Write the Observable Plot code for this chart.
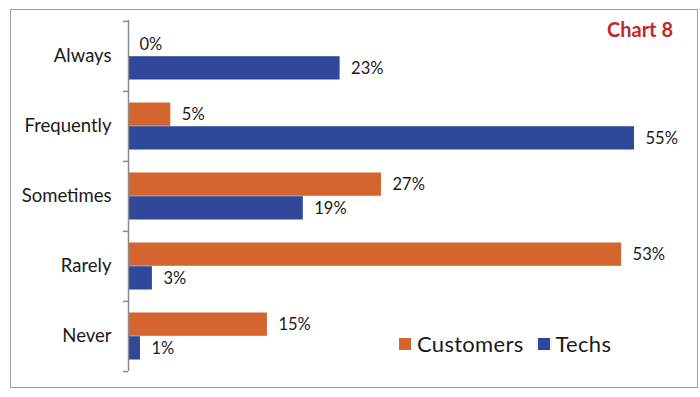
<!DOCTYPE html>
<html><head><meta charset="utf-8">
<script src="https://cdn.jsdelivr.net/npm/d3@7"></script>
<script src="https://cdn.jsdelivr.net/npm/@observablehq/plot@0.6"></script>
<style>
body{margin:0;background:#fff;font-family:Lato,"Open Sans",sans-serif;}
#wrap{position:relative;width:700px;height:397px;overflow:hidden;}
#frame{position:absolute;left:10px;top:9px;width:686px;height:377px;border:1.5px solid #a0a0a0;}
#chart{position:absolute;left:0;top:0;}
#title{position:absolute;left:607px;top:17px;font-weight:bold;font-size:20px;color:#c1272d;}
#legend{position:absolute;left:399px;top:330px;font-size:22px;color:#1a1a1a;display:flex;align-items:center;letter-spacing:0.3px;}
#legend span.sw{display:inline-block;width:12px;height:12px;margin-right:6px;}
#legend span.lab{margin-right:14px;}
</style></head>
<body>
<div id="wrap">
<div id="frame"></div>
<div id="chart"></div>
<div id="title">Chart 8</div>
<div id="legend"><span class="sw" style="background:#d4652f"></span><span class="lab">Customers</span><span class="sw" style="background:#2f4899"></span><span class="lab">Techs</span></div>
</div>
<script>
const categories = ["Always", "Frequently", "Sometimes", "Rarely", "Never"];
const customers = [0, 4.6, 27.5, 53.6, 15.1];
const techs = [23, 55, 19, 2.6, 1.3];
const customerLabels = ["0%", "5%", "27%", "53%", "15%"];
const techLabels = ["23%", "55%", "19%", "3%", "1%"];

const orange = "#d4652f", blue = "#2f4899";
const H = 397, mt = 20, mb = 26;
const bw = (H - mt - mb) / categories.length;

const cData = categories.map((c, i) => ({cat: c, v: customers[i], label: customerLabels[i]}));
const tData = categories.map((c, i) => ({cat: c, v: techs[i], label: techLabels[i]}));

const plot = Plot.plot({
  width: 700, height: H,
  marginLeft: 128, marginRight: 20, marginTop: mt, marginBottom: mb,
  style: {fontFamily: "Lato, 'Open Sans', sans-serif", background: "transparent"},
  x: {domain: [0, 60], axis: null},
  y: {domain: categories, padding: 0, axis: null},
  marks: [
    Plot.barX(cData, {y: "cat", x: "v", fill: orange, insetTop: 11.5, insetBottom: 35.2}),
    Plot.barX(tData, {y: "cat", x: "v", fill: blue, insetTop: 35.2, insetBottom: 11.5}),
    Plot.ruleX([0], {stroke: "#8a8a8a", strokeWidth: 1.5}),
    Plot.ruleY(categories, {y: d => d, x1: -0.55, x2: 0, dy: -bw / 2, stroke: "#8a8a8a", strokeWidth: 1.5}),
    Plot.ruleY(categories.slice(-1), {y: d => d, x1: -0.55, x2: 0, dy: bw / 2, stroke: "#8a8a8a", strokeWidth: 1.5}),
    Plot.axisY({tickSize: 0, tickPadding: 17, fontSize: 18.5, color: "#1a1a1a", label: null, style: {letterSpacing: "0.3px"}}),
    Plot.text(cData, {y: "cat", x: "v", text: "label", dx: 11, dy: -11.8, textAnchor: "start", fontSize: 16.5, fill: "#1a1a1a"}),
    Plot.text(tData, {y: "cat", x: "v", text: "label", dx: 11, dy: 11.8, textAnchor: "start", fontSize: 16.5, fill: "#1a1a1a"})
  ]
});
document.getElementById("chart").appendChild(plot);
</script>
</body></html>
